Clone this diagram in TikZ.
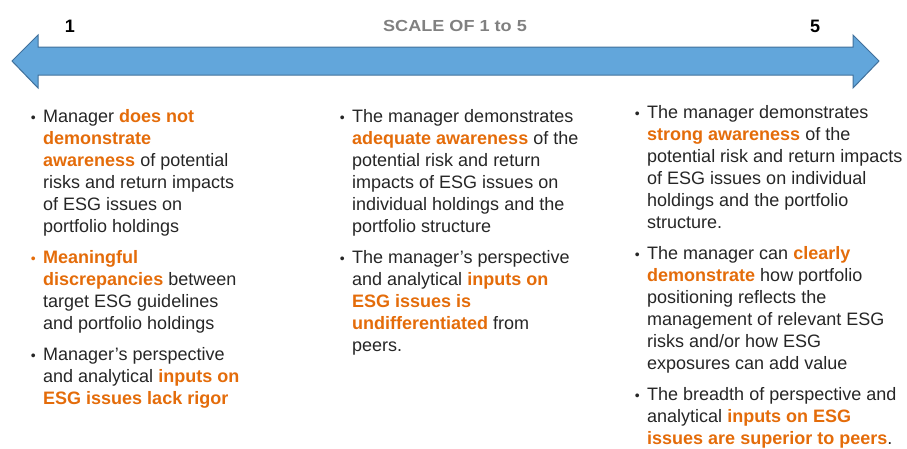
\documentclass[tikz,border=0pt]{standalone}
\usepackage{fontspec}
\setmainfont{Liberation Sans}
\newfontfamily\scalefont[FakeStretch=1.13]{Liberation Sans}
\definecolor{arrowfill}{RGB}{98,166,219}
\definecolor{arrowline}{RGB}{65,113,156}
\definecolor{hilite}{RGB}{228,108,10}
\definecolor{bodytext}{RGB}{38,38,38}
\definecolor{scalegray}{RGB}{128,128,128}
\newcommand{\orng}[1]{\textbf{\textcolor{hilite}{#1}}}

\begin{document}
\begin{tikzpicture}[x=1pt,y=-1pt,
    point/.style={anchor=base, inner sep=0pt, text=black, font=\fontsize{18}{22}\selectfont\bfseries},
    scaletext/.style={anchor=base, inner sep=0pt, text=scalegray, font=\scalefont\fontsize{16}{18}\selectfont\bfseries},
    item/.style={anchor=north west, yshift=15.4pt, align=left, inner sep=0pt, text=bodytext, font=\fontsize{18}{22}\selectfont},
    dot/.style={anchor=base east, inner sep=0pt, xshift=-7pt, yshift=-15.4pt, text=bodytext, font=\fontsize{14}{22}\selectfont}
  ]
  \useasboundingbox (0,0) rectangle (907,448);
  \draw[fill=arrowfill, draw=arrowline, line width=1pt] (12,61) -- (38,35) -- (38,47) -- (853,47) -- (853,35) -- (879,61) -- (853,88) -- (853,75) -- (38,75) -- (38,88) -- cycle;
  \node[point] (one) at (70,32) {1};
  \node[point] (five) at (815,32) {5};
  \node[scaletext] (scale) at (455,31) {SCALE OF 1 to 5};

  \node[item] (c1a) at (43,122) {\strut Manager \orng{does not}\\\orng{demonstrate}\\\orng{awareness} of potential\\risks and return impacts\\of ESG issues on\\portfolio holdings};
  \node[item] (c1b) at (43,263) {\strut\orng{Meaningful}\\\orng{discrepancies} between\\target ESG guidelines\\and portfolio holdings};
  \node[item] (c1c) at (43,360) {\strut Manager’s perspective\\and analytical \orng{inputs on}\\\orng{ESG issues lack rigor}};
  \node[dot] at (c1a.north west) {•};
  \node[dot, text=hilite] at (c1b.north west) {•};
  \node[dot] at (c1c.north west) {•};

  \node[item] (c2a) at (352,122) {\strut The manager demonstrates\\\orng{adequate awareness} of the\\potential risk and return\\impacts of ESG issues on\\individual holdings and the\\portfolio structure};
  \node[item] (c2b) at (352,263) {\strut The manager’s perspective\\and analytical \orng{inputs on}\\\orng{ESG issues is}\\\orng{undifferentiated} from\\peers.};
  \node[dot] at (c2a.north west) {•};
  \node[dot] at (c2b.north west) {•};

  \node[item] (c3a) at (647,118) {\strut The manager demonstrates\\\orng{strong awareness} of the\\potential risk and return impacts\\of ESG issues on individual\\holdings and the portfolio\\structure.};
  \node[item] (c3b) at (647,259) {\strut The manager can \orng{clearly}\\\orng{demonstrate} how portfolio\\positioning reflects the\\management of relevant ESG\\risks and/or how ESG\\exposures can add value};
  \node[item] (c3c) at (647,400) {\strut The breadth of perspective and\\analytical \orng{inputs on ESG}\\\orng{issues are superior to peers}.};
  \node[dot] at (c3a.north west) {•};
  \node[dot] at (c3b.north west) {•};
  \node[dot] at (c3c.north west) {•};
\end{tikzpicture}
\end{document}
